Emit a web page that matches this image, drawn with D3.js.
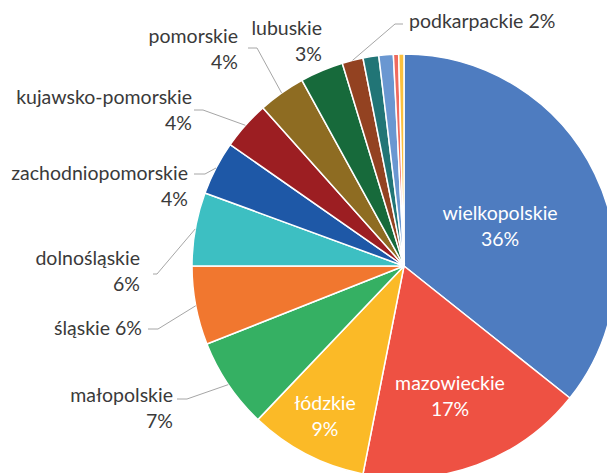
<!DOCTYPE html>
<html>
<head>
<meta charset="utf-8">
<script src="https://cdn.jsdelivr.net/npm/d3@7"></script>
<style>
  body { margin: 0; background: #fff; }
  text { font-family: Lato, "Open Sans", sans-serif; }
</style>
</head>
<body>
<div id="chart"></div>
<script>
var width = 607, height = 473;

// udział województw (w %)
const regions = ["wielkopolskie", "mazowieckie", "łódzkie", "małopolskie", "śląskie",
  "dolnośląskie", "zachodniopomorskie", "kujawsko-pomorskie", "pomorskie", "lubuskie",
  "podkarpackie", "warmińsko-mazurskie", "lubelskie", "podlaskie", "opolskie"];
const shares = [35.7, 17.4, 9.0, 6.9, 6.0, 5.6, 4.1, 3.7, 3.6, 3.3, 1.6, 1.2, 1.1, 0.4, 0.4];
const colors = ["#4e7cc0", "#ee5143", "#fbba27", "#35b063", "#f1772f", "#3dbfc2", "#1e58a7",
  "#9c1e22", "#8e6c22", "#176a3b", "#934221", "#217576", "#6a97d1", "#ef6a5e", "#fbc03c"];

// rozmieszczenie etykiet (jak w Excelu)
const labelLayout = {
  "wielkopolskie":      {x: 500, y: 220, anchor: "middle", inside: true, twoLines: true},
  "mazowieckie":        {x: 450, y: 390, anchor: "middle", inside: true, twoLines: true},
  "łódzkie":            {x: 325, y: 410, anchor: "middle", inside: true, twoLines: true},
  "małopolskie":        {x: 173, y: 402, anchor: "end", twoLines: true, elbow: [187, 399], end: [177, 399]},
  "śląskie":            {x: 142, y: 335, anchor: "end", twoLines: false, elbow: [158, 329], end: [148, 329]},
  "dolnośląskie":       {x: 140, y: 265, anchor: "end", twoLines: true, elbow: [157, 274], end: [153, 274]},
  "zachodniopomorskie": {x: 188, y: 180, anchor: "end", twoLines: true, elbow: [205, 174], end: [194, 174]},
  "kujawsko-pomorskie": {x: 192, y: 104, anchor: "end", twoLines: true, elbow: [203, 110], end: [194, 110]},
  "pomorskie":          {x: 238, y: 43, anchor: "end", twoLines: true, elbow: [257, 48], end: [248, 48]},
  "lubuskie":           {x: 322, y: 35, anchor: "end", twoLines: true},
  "podkarpackie":       {x: 409, y: 28, anchor: "start", twoLines: false, elbow: [395, 24], end: [403, 24]}
};

const cx = 404, cy = 266, radius = 212;
const lineH = 26;

const svg = d3.select("#chart").append("svg")
    .attr("width", width)
    .attr("height", height);

const total = d3.sum(shares);
const fmt = d3.format(".0%");

const data = regions.map(function(r, i) {
  return {name: r, value: shares[i], color: colors[i]};
});

const pie = d3.pie()
    .sort(null)
    .value(function(d) { return d.value; });

const arc = d3.arc()
    .innerRadius(0)
    .outerRadius(radius);

const arcs = pie(data);

const g = svg.append("g")
    .attr("transform", "translate(" + cx + "," + cy + ")");

g.selectAll("path")
  .data(arcs)
  .join("path")
    .attr("d", arc)
    .attr("fill", function(d) { return d.data.color; })
    .attr("stroke", "#fff")
    .attr("stroke-width", 1.5);

// linie odniesienia
arcs.forEach(function(a) {
  var lay = labelLayout[a.data.name];
  if (!lay || !lay.elbow) return;
  var mid = (a.startAngle + a.endAngle) / 2;
  var px = cx + radius * Math.sin(mid), py = cy - radius * Math.cos(mid);
  svg.append("polyline")
      .attr("points", [[px, py], lay.elbow, lay.end].map(function(p) { return p.join(","); }).join(" "))
      .attr("fill", "none")
      .attr("stroke", "#a6a6a6")
      .attr("stroke-width", 1);
});

// etykiety
arcs.forEach(function(a) {
  var lay = labelLayout[a.data.name];
  if (!lay) return;
  var pct = fmt(a.data.value / total);
  var t = svg.append("text")
      .attr("x", lay.x)
      .attr("y", lay.y)
      .attr("text-anchor", lay.anchor)
      .attr("font-size", "19.5px")
      .attr("fill", lay.inside ? "#ffffff" : "#3a3a3a");
  if (lay.twoLines) {
    t.append("tspan").attr("x", lay.x).text(a.data.name);
    t.append("tspan").attr("x", lay.x).attr("dy", lineH).text(pct);
  } else {
    t.text(a.data.name + " " + pct);
  }
});
</script>
</body>
</html>
